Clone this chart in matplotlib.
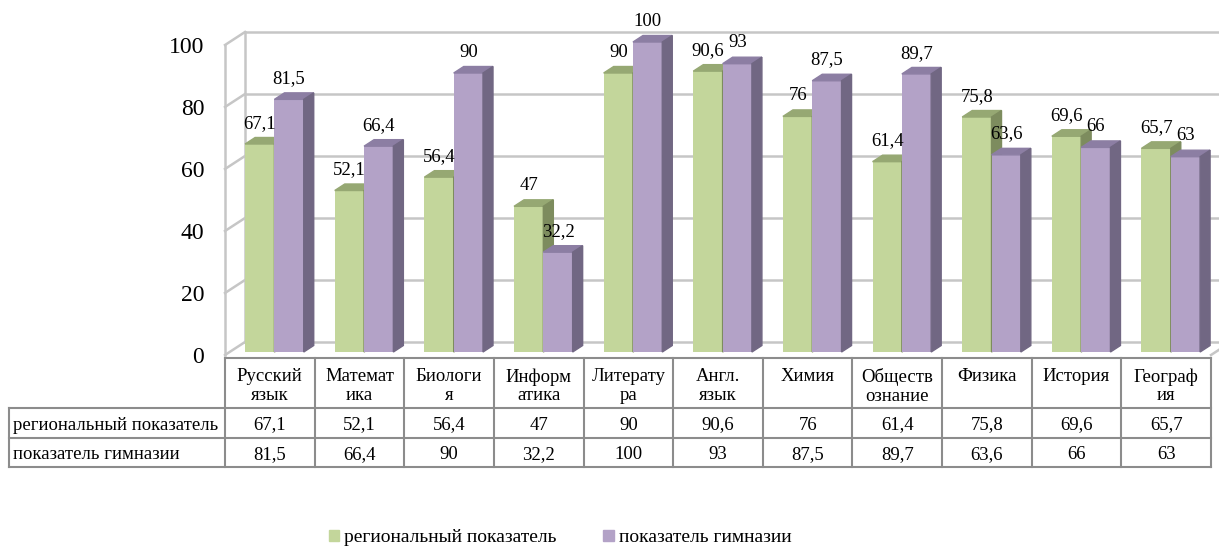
import matplotlib.pyplot as plt
from matplotlib.patches import Polygon, Patch

plt.rcParams['font.family'] = ['Liberation Serif', 'DejaVu Serif']

# ---------------- data ----------------
subjects = ['Русский\nязык', 'Математ\nика', 'Биологи\nя', 'Информ\nатика', 'Литерату\nра',
            'Англ.\nязык', 'Химия', 'Обществ\nознание', 'Физика', 'История', 'Географ\nия']
regional = [67.1, 52.1, 56.4, 47, 90, 90.6, 76, 61.4, 75.8, 69.6, 65.7]
gymnasium = [81.5, 66.4, 90, 32.2, 100, 93, 87.5, 89.7, 63.6, 66, 63]
series_names = ['региональный показатель', 'показатель гимназии']
yticks = [0, 20, 40, 60, 80, 100]

# colours: front, top, side
green = ('#C3D69B', '#96A873', '#7D8C5E')
purple = ('#B3A2C7', '#8C7EA3', '#716783')
grid_col = '#C6C6C6'
table_col = '#8C8C8C'


def fmt(v):
    return f'{v:g}'.replace('.', ',')


n = len(subjects)
DX, DY = 20 / 89.64, 13 / 3.1      # full depth of the 3d box in data units
front = 0.23                        # depth of the bars' front plane
bdx, bdy = 0.5 * DX, 0.5 * DY      # depth of a bar
w = 0.327                           # bar width

fig = plt.figure(figsize=(12.19, 5.48), dpi=100)
ax = fig.add_axes([225 / 1219, 193 / 548, 986 / 1219, 310 / 548])
ax.set_xlim(0, n)
ax.set_ylim(0, 100)
for s in ax.spines.values():
    s.set_visible(False)
ax.set_xticks([])
ax.set_yticks(yticks)
ax.tick_params(axis='y', length=0, pad=15, labelsize=17)

# -------------------- walls and grid --------------------
for v in yticks:
    ax.plot([DX, n + DX + 1], [v + DY, v + DY], color=grid_col, lw=1.8, clip_on=False, zorder=1)
    ax.plot([0, DX], [v, v + DY], color=grid_col, lw=1.8, clip_on=False, zorder=1)
ax.plot([0, 0], [0, 100], color=grid_col, lw=1.8, clip_on=False, zorder=1)
ax.plot([DX, DX], [DY, 100 + DY], color=grid_col, lw=1.8, clip_on=False, zorder=1)
ax.plot([n, n + DX], [0, DY], color=grid_col, lw=1.8, clip_on=False, zorder=1)

# -------------------- 3d bars --------------------
base = front * DY
for k, (vals, cols) in enumerate([(regional, green), (gymnasium, purple)]):
    lefts = [i + 0.5 - w + k * w + front * DX for i in range(n)]
    z = 2 + k
    ax.bar(lefts, vals, width=w, bottom=base, align='edge', color=cols[0], zorder=z, clip_on=False)
    for xl, v in zip(lefts, vals):
        yt = base + v
        ax.add_patch(Polygon([(xl, yt), (xl + w, yt), (xl + w + bdx, yt + bdy), (xl + bdx, yt + bdy)],
                             closed=True, color=cols[1], zorder=z, clip_on=False))
        ax.add_patch(Polygon([(xl + w, base), (xl + w + bdx, base + bdy), (xl + w + bdx, yt + bdy), (xl + w, yt)],
                             closed=True, color=cols[2], zorder=z, clip_on=False))
        ax.annotate(fmt(v), (xl + w / 2, yt), xytext=(0, 15), textcoords='offset points',
                    ha='center', va='center', fontsize=13.5, zorder=10, annotation_clip=False)

# -------------------- data table (x in data units, y in axes fraction) --------------------
tr = ax.get_xaxis_transform()
x_left = -216 / 89.64
row_y = [-3 / 310, -53 / 310, -83 / 310, -112 / 310]   # header top, header bottom, row1 bottom, row2 bottom
line_kw = dict(color=table_col, lw=1.5, transform=tr, clip_on=False, zorder=5,
               solid_capstyle='projecting')

ax.plot([0, n], [row_y[0], row_y[0]], **line_kw)
for y in row_y[1:]:
    ax.plot([x_left, n], [y, y], **line_kw)
for i in range(n + 1):
    ax.plot([i, i], [row_y[0], row_y[3]], **line_kw)
ax.plot([x_left, x_left], [row_y[1], row_y[3]], **line_kw)

for i, name in enumerate(subjects):
    ax.text(i + 0.5, -13 / 310, name, transform=tr, ha='center', va='top', multialignment='center',
            linespacing=1.12, fontsize=13.5)
for r, (name, vals) in enumerate(zip(series_names, [regional, gymnasium])):
    yc = (row_y[r + 1] + row_y[r + 2]) / 2 - 2 / 310
    ax.text(x_left + 0.04, yc, name, transform=tr, ha='left', va='center', fontsize=13.5)
    for i, v in enumerate(vals):
        ax.text(i + 0.5, yc, fmt(v), transform=tr, ha='center', va='center', fontsize=13.5)

# -------------------- legend --------------------
handles = [Patch(color=green[0]), Patch(color=purple[0])]
fig.legend(handles, series_names, loc='center', bbox_to_anchor=(560 / 1219, 1 - 538 / 548), ncol=2,
           frameon=False, fontsize=14, handlelength=0.55, handleheight=0.55,
           handletextpad=0.25, columnspacing=2.4)

plt.savefig('out.png', dpi=100)
